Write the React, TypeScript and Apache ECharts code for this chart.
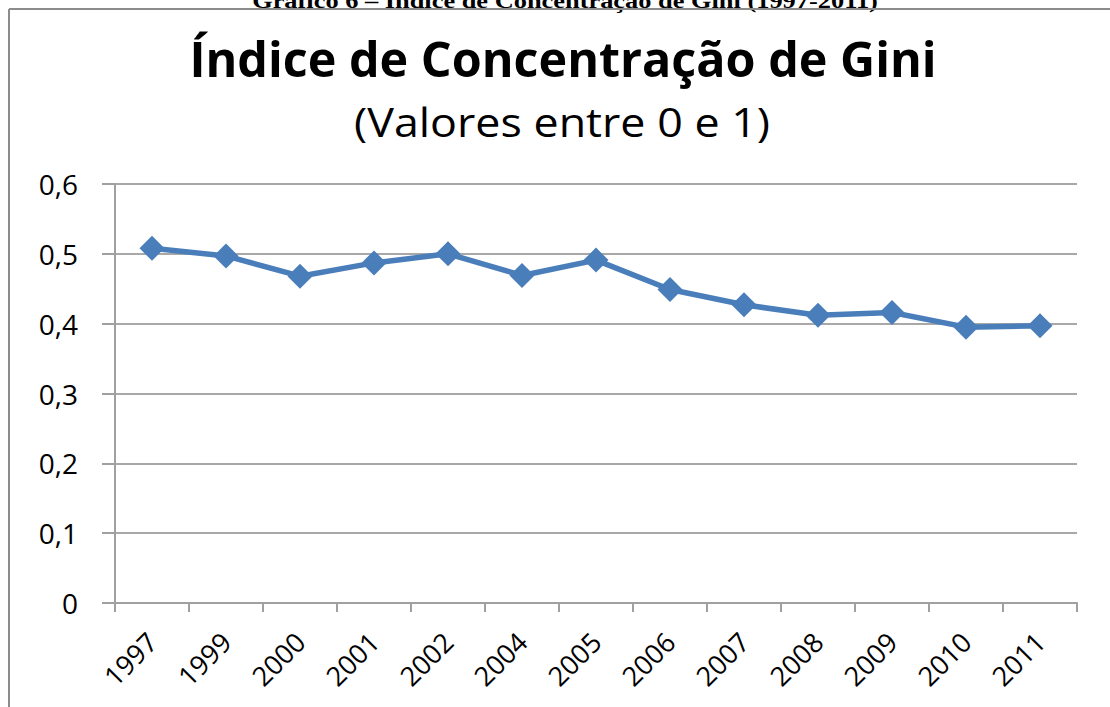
import React, { useEffect, useRef } from "react";
import * as echarts from "echarts";

const years = ["1997", "1999", "2000", "2001", "2002", "2004", "2005", "2006", "2007", "2008", "2009", "2010", "2011"];
const gini = [0.508, 0.497, 0.468, 0.487, 0.5, 0.469, 0.491, 0.449, 0.427, 0.412, 0.416, 0.395, 0.397];
const titleText = "Índice de Concentração de Gini";
const subtitleText = "(Valores entre 0 e 1)";
const captionText = "Gráfico 6 – Índice de Concentração de Gini (1997-2011)";

export default function App() {
  const ref = useRef<HTMLDivElement>(null);
  useEffect(() => {
    if (!ref.current) return;
    const chart = echarts.init(ref.current, null, { renderer: "svg" });
    const font = "'Open Sans', 'Noto Sans', sans-serif";
    chart.setOption({
      animation: false,
      backgroundColor: "#ffffff",
      graphic: [
        {
          type: "text",
          x: 565,
          y: 11,
          scaleX: 1.2,
          style: {
            text: captionText,
            font: "bold 22px 'Liberation Serif', serif",
            fill: "#000",
            align: "center",
            verticalAlign: "bottom",
          },
        },
        { type: "line", shape: { x1: 9, y1: 9, x2: 1110, y2: 9 }, style: { stroke: "#8c8c8c", lineWidth: 2 } },
        { type: "line", shape: { x1: 9, y1: 9, x2: 9, y2: 707 }, style: { stroke: "#8c8c8c", lineWidth: 2 } },
        {
          type: "text",
          x: 563,
          y: 82,
          scaleX: 1.01,
          style: {
            text: titleText,
            font: `bold 48px ${font}`,
            fill: "#000",
            align: "center",
            verticalAlign: "bottom",
          },
        },
        {
          type: "text",
          x: 562,
          y: 121,
          scaleX: 1.12,
          style: {
            text: subtitleText,
            font: `40px ${font}`,
            fill: "#000",
            align: "center",
            verticalAlign: "middle",
          },
        },
      ],
      grid: { left: 115, right: 33, top: 184, bottom: 104, containLabel: false },
      xAxis: {
        type: "category",
        data: years,
        boundaryGap: true,
        axisLine: { lineStyle: { color: "#a0a0a0", width: 2 } },
        axisTick: { show: true, length: 9, lineStyle: { color: "#a0a0a0", width: 2 } },
        axisLabel: {
          rotate: 45,
          margin: 34,
          interval: 0,
          fontFamily: font,
          fontSize: 27,
          color: "#000",
        },
      },
      yAxis: {
        type: "value",
        min: 0,
        max: 0.6,
        interval: 0.1,
        axisLine: { show: true, lineStyle: { color: "#a0a0a0", width: 2 } },
        axisTick: { show: true, length: 13, lineStyle: { color: "#a0a0a0", width: 2 } },
        splitLine: { show: true, lineStyle: { color: "#a8a8a8", width: 2 } },
        axisLabel: {
          margin: 37,
          fontFamily: font,
          fontSize: 28,
          color: "#000",
          formatter: (v: number) => (v === 0 ? "0" : v.toFixed(1).replace(".", ",")),
        },
      },
      series: [
        {
          type: "line",
          data: gini,
          symbol: "diamond",
          symbolSize: 25,
          lineStyle: { color: "#4a7ebb", width: 5.5 },
          itemStyle: { color: "#4a7ebb" },
        },
      ],
    });
    return () => chart.dispose();
  }, []);
  return (
    <div
      ref={ref}
      style={{ position: "absolute", left: 0, top: 0, width: 1110, height: 707, background: "#fff" }}
    />
  );
}
